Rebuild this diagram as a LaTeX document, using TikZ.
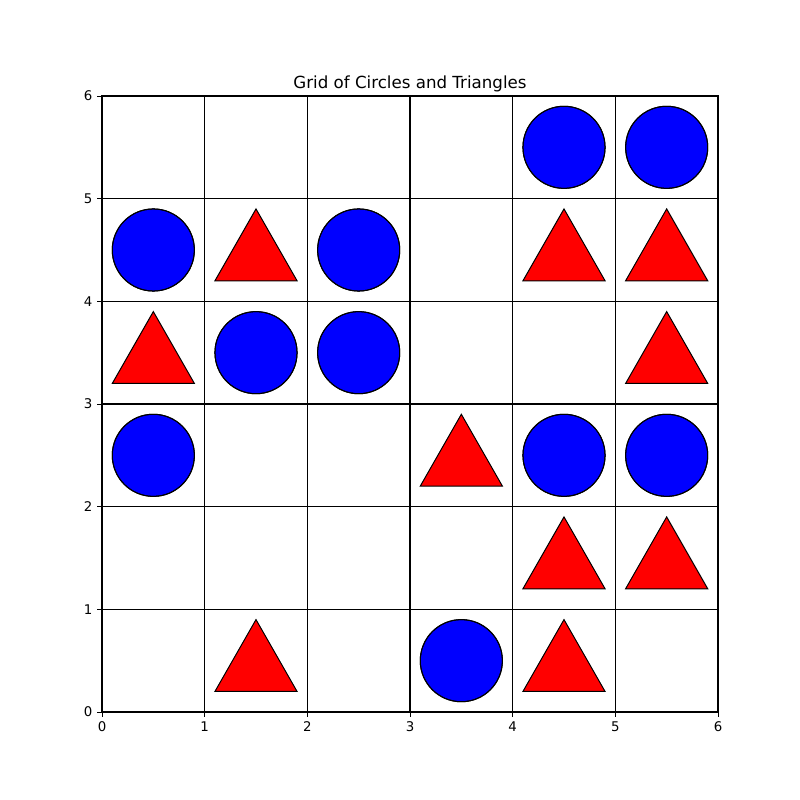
\documentclass[tikz,border=0pt]{standalone}
\usepackage{fontspec}
\setmainfont{DejaVu Sans}
\begin{document}
\begin{tikzpicture}[x=0.75pt,y=0.75pt,
  gridline/.style={black,line width=0.8pt},
  circ/.style={fill={rgb,1:red,0;green,0;blue,1},draw=black,line width=0.75pt},
  tri/.style={fill={rgb,1:red,1;green,0;blue,0},draw=black,line width=0.75pt},
  tick/.style={black,line width=0.6pt},
  ticklabel/.style={font=\fontsize{10}{12}\selectfont,inner sep=0pt}]
\useasboundingbox (0,0) rectangle (800,800);
\node[font=\fontsize{12.5}{14}\selectfont,anchor=base] (title) at (410,711) {Grid of Circles and Triangles};
\begin{scope}[shift={(102,88)},x=77pt,y=77pt]
  % shapes
  \foreach \cx/\cy in {4/5,5/5,0/4,2/4,1/3,2/3,0/2,4/2,5/2,3/0}
    \fill[circ] (\cx+0.5,\cy+0.5) circle (0.4);
  \foreach \tx/\ty in {1/4,4/4,5/4,0/3,5/3,3/2,4/1,5/1,1/0,4/0}
    \filldraw[tri] (\tx+0.1,\ty+0.2) -- (\tx+0.9,\ty+0.2) -- (\tx+0.5,\ty+0.9) -- cycle;
  \foreach \cx/\cy in {4/5,5/5,0/4,2/4,1/3,2/3,0/2,4/2,5/2,3/0}
    \draw[circ,fill=none] (\cx+0.5,\cy+0.5) circle (0.4);
  % grid
  \foreach \i in {1,...,5} {
    \draw[gridline] (\i,0) -- (\i,6);
    \draw[gridline] (0,\i) -- (6,\i);
  }
  \draw[gridline] (0,0) rectangle (6,6);
  % ticks
  \foreach \i in {0,...,6} {
    \draw[tick] (\i,0) -- ++(0,-3.5pt);
    \draw[tick] (0,\i) -- ++(-3.5pt,0);
    \node[ticklabel,anchor=north] (xl\i) at ([yshift=-7pt]\i,0) {\i};
    \node[ticklabel,anchor=east] (yl\i) at ([xshift=-7pt]0,\i) {\i};
  }
\end{scope}
\end{tikzpicture}
\end{document}
